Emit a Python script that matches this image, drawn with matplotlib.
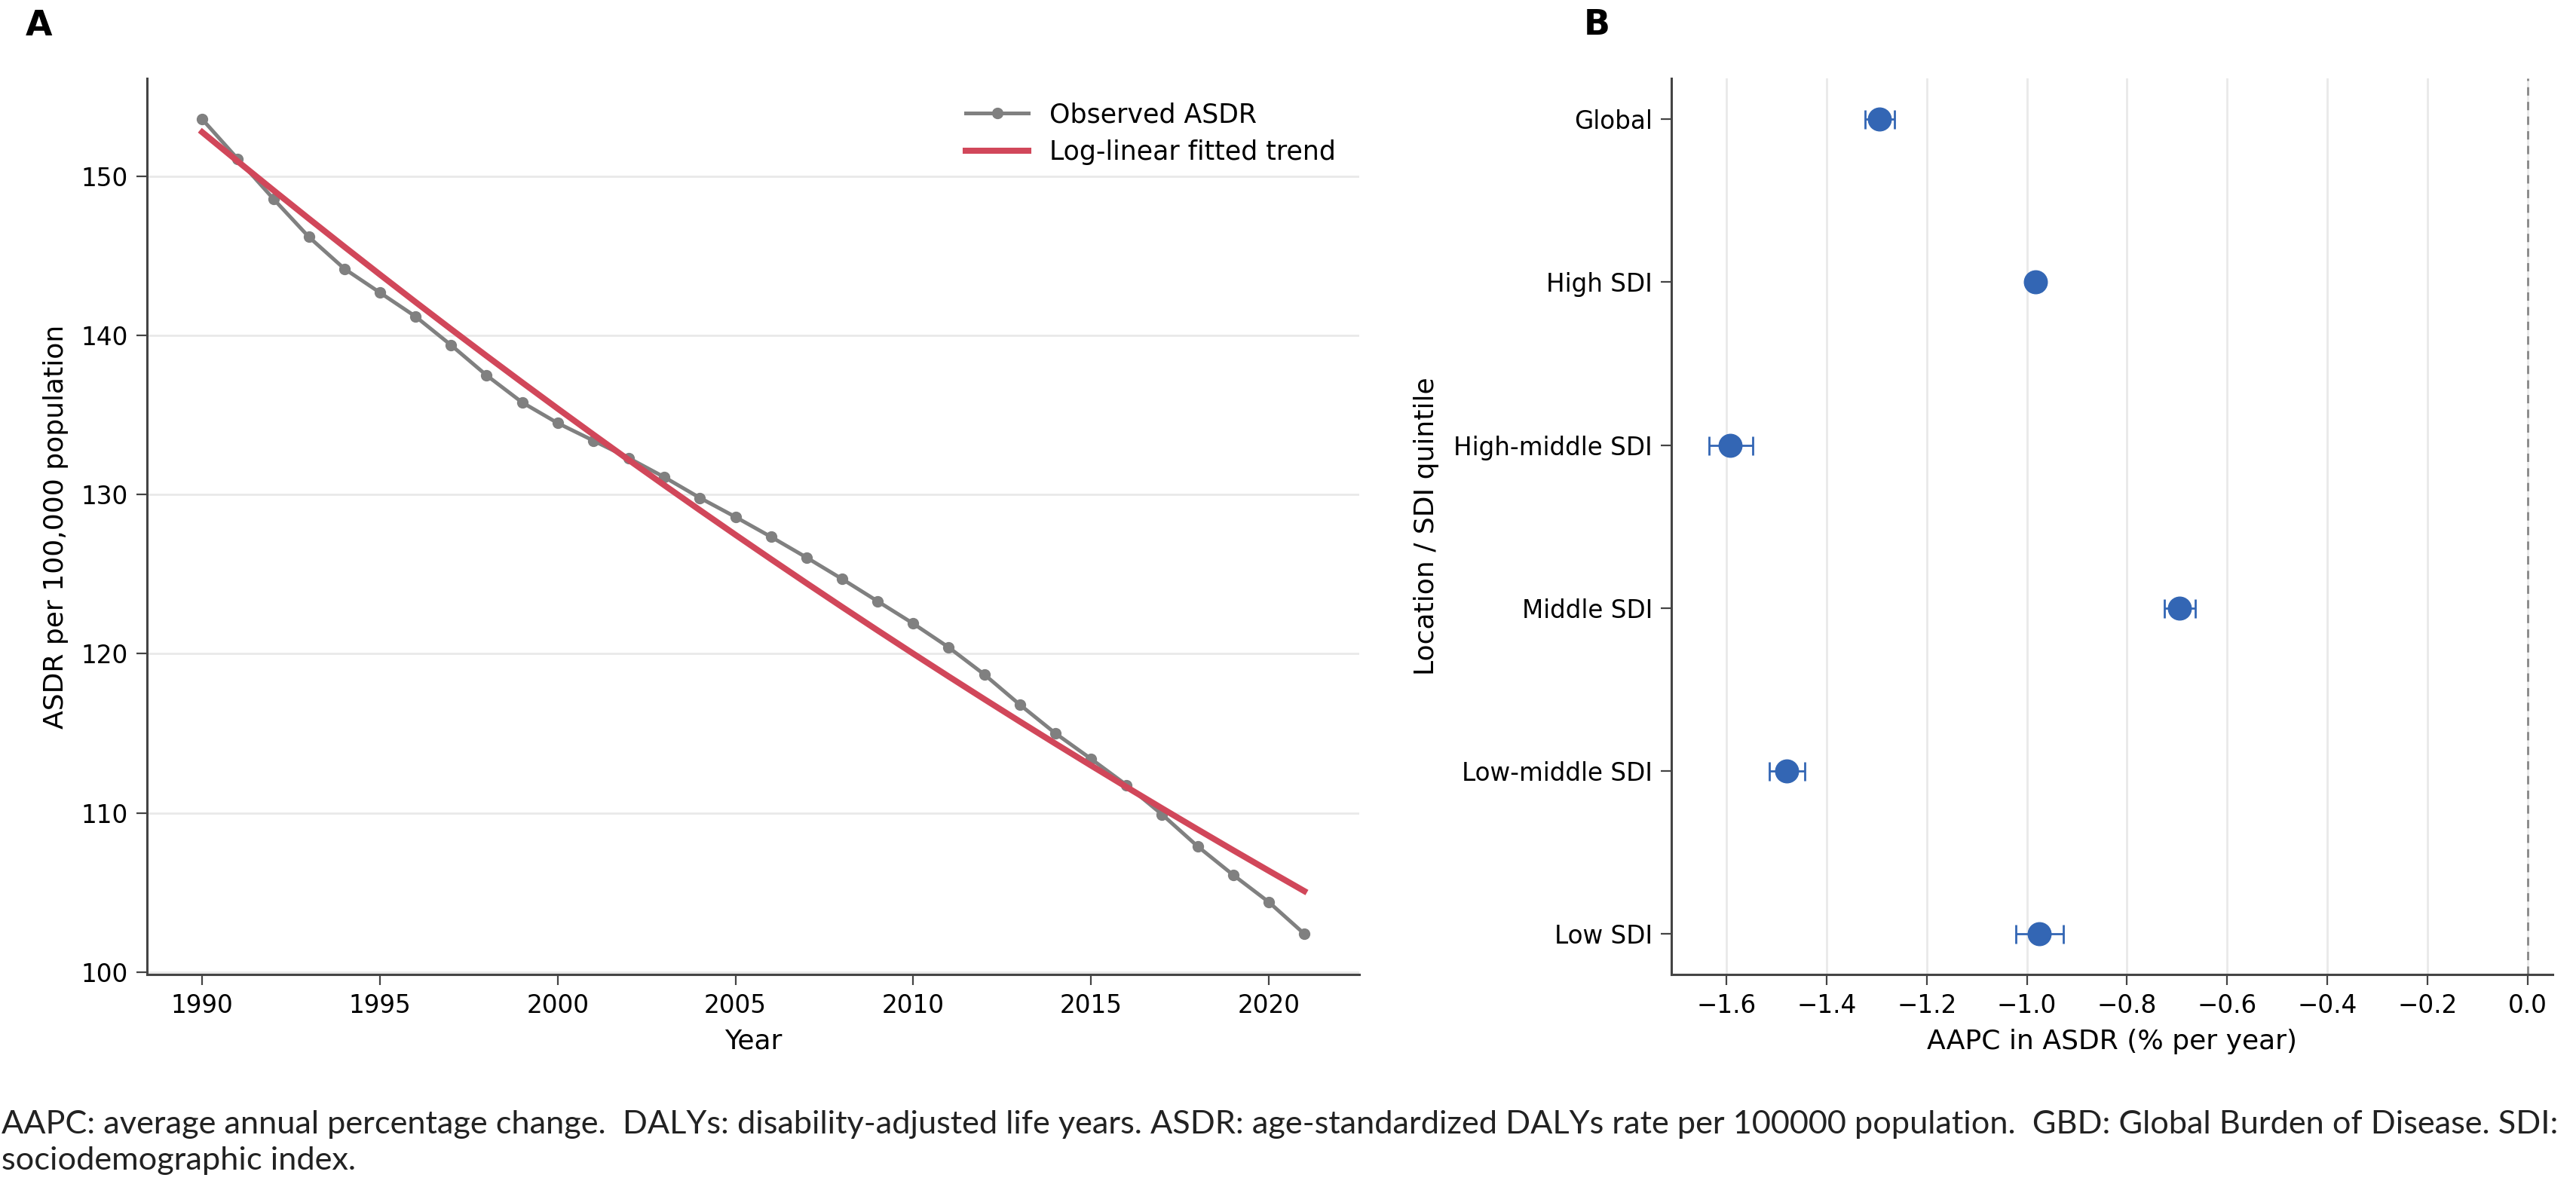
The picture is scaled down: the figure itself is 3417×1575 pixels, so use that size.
import numpy as np
import matplotlib
matplotlib.use("Agg")
import matplotlib.pyplot as plt

# Panel A: observed ASDR per 100,000
years = np.arange(1990, 2022)
asdr = [153.6, 151.1, 148.6, 146.2, 144.2, 142.7, 141.2, 139.4, 137.5, 135.8,
        134.5, 133.4, 132.3, 131.1, 129.8, 128.6, 127.35, 126.05, 124.7, 123.3,
        121.9, 120.4, 118.7, 116.8, 115.0, 113.4, 111.75, 109.9, 107.9, 106.1,
        104.4, 102.4]

# Panel B: AAPC with 95% CI
locations = ["Global", "High SDI", "High-middle SDI", "Middle SDI",
             "Low-middle SDI", "Low SDI"]
aapc = [-1.295, -0.983, -1.592, -0.695, -1.480, -0.975]
ci_low = [-1.323, -0.995, -1.634, -0.725, -1.514, -1.022]
ci_high = [-1.264, -0.971, -1.547, -0.664, -1.444, -0.927]

caption_1 = ("AAPC: average annual percentage change.  DALYs: disability-adjusted life years. "
             "ASDR: age-standardized DALYs rate per 100000 population.  GBD: Global Burden of Disease. SDI:")
caption_2 = "sociodemographic index."

GREY = "#808080"
RED = "#d1475a"
BLUE = "#3366b4"
GRID = "#e9e9e9"
SPINE = "#444444"

TICK_FS = 23.5
LABEL_FS = 26
LEGEND_FS = 25

plt.rcParams["font.family"] = "DejaVu Sans"

fig = plt.figure(figsize=(34.17, 15.75), dpi=100)
axA = fig.add_axes([0.0571, 0.1790, 0.4706, 0.7549])
axB = fig.add_axes([0.6488, 0.1790, 0.3421, 0.7549])


def style_axes(ax):
    for side in ["top", "right"]:
        ax.spines[side].set_visible(False)
    for side in ["left", "bottom"]:
        ax.spines[side].set_linewidth(2.2)
        ax.spines[side].set_color(SPINE)
    ax.tick_params(axis="both", labelsize=TICK_FS, length=10, width=1.6,
                   color=SPINE, pad=8)
    ax.set_axisbelow(True)


# ---- Panel A ----
asdr_arr = np.array(asdr)
slope, intercept = np.polyfit(years, np.log(asdr_arr), 1)
fitted = np.exp(intercept + slope * years)

axA.plot(years, asdr_arr, color=GREY, lw=3.6, marker="o", ms=10,
         label="Observed ASDR", zorder=3)
axA.plot(years, fitted, color=RED, lw=5.8, label="Log-linear fitted trend",
         zorder=4)
style_axes(axA)
axA.grid(axis="y", color=GRID, lw=2)
axA.set_xticks(np.arange(1990, 2021, 5))
axA.set_yticks(np.arange(100, 151, 10))
axA.set_xlabel("Year", fontsize=LABEL_FS, labelpad=10)
axA.set_ylabel("ASDR per 100,000 population", fontsize=LABEL_FS, labelpad=12)
axA.legend(loc="upper right", frameon=False, fontsize=LEGEND_FS,
           handlelength=2.4, handletextpad=0.8, labelspacing=0.45)

# ---- Panel B ----
ypos = np.arange(len(locations))
aapc_arr = np.array(aapc)
err = [aapc_arr - np.array(ci_low), np.array(ci_high) - aapc_arr]
axB.errorbar(aapc_arr, ypos, xerr=err, fmt="o", color=BLUE, ms=22,
             elinewidth=2.0, capsize=9, capthick=2.0, zorder=3)
axB.axvline(0, color="#888888", lw=2, ls=(0, (4, 3)), zorder=2)
style_axes(axB)
axB.grid(axis="x", color=GRID, lw=2)
axB.set_yticks(ypos)
axB.set_yticklabels(locations)
axB.invert_yaxis()
axB.set_xlim(-1.71, 0.05)
axB.set_xticks(np.round(np.arange(-1.6, 0.01, 0.2), 1))
axB.set_xlabel("AAPC in ASDR (% per year)", fontsize=LABEL_FS, labelpad=10)
axB.set_ylabel("Location / SDI quintile", fontsize=LABEL_FS, labelpad=14)

# panel letters
fig.text(34 / 3417, 1 - 47 / 1575, "A", fontsize=33, fontweight="bold",
         ha="left", va="baseline")
fig.text(2101 / 3417, 1 - 46 / 1575, "B", fontsize=33, fontweight="bold",
         ha="left", va="baseline")

# caption, sized so the first line spans the page width like the reference
cap1 = fig.text(2 / 3417, 1 - 1504 / 1575, caption_1, fontsize=32,
                family="Lato", ha="left", va="baseline", color="#222222")
cap2 = fig.text(2 / 3417, 1 - 1552 / 1575, caption_2, fontsize=32,
                family="Lato", ha="left", va="baseline", color="#222222")
renderer = fig.canvas.get_renderer()
width = cap1.get_window_extent(renderer).width
cap_fs = 32 * 3400 / width
cap1.set_fontsize(cap_fs)
cap2.set_fontsize(cap_fs)

fig.savefig("out.png", dpi=100)
